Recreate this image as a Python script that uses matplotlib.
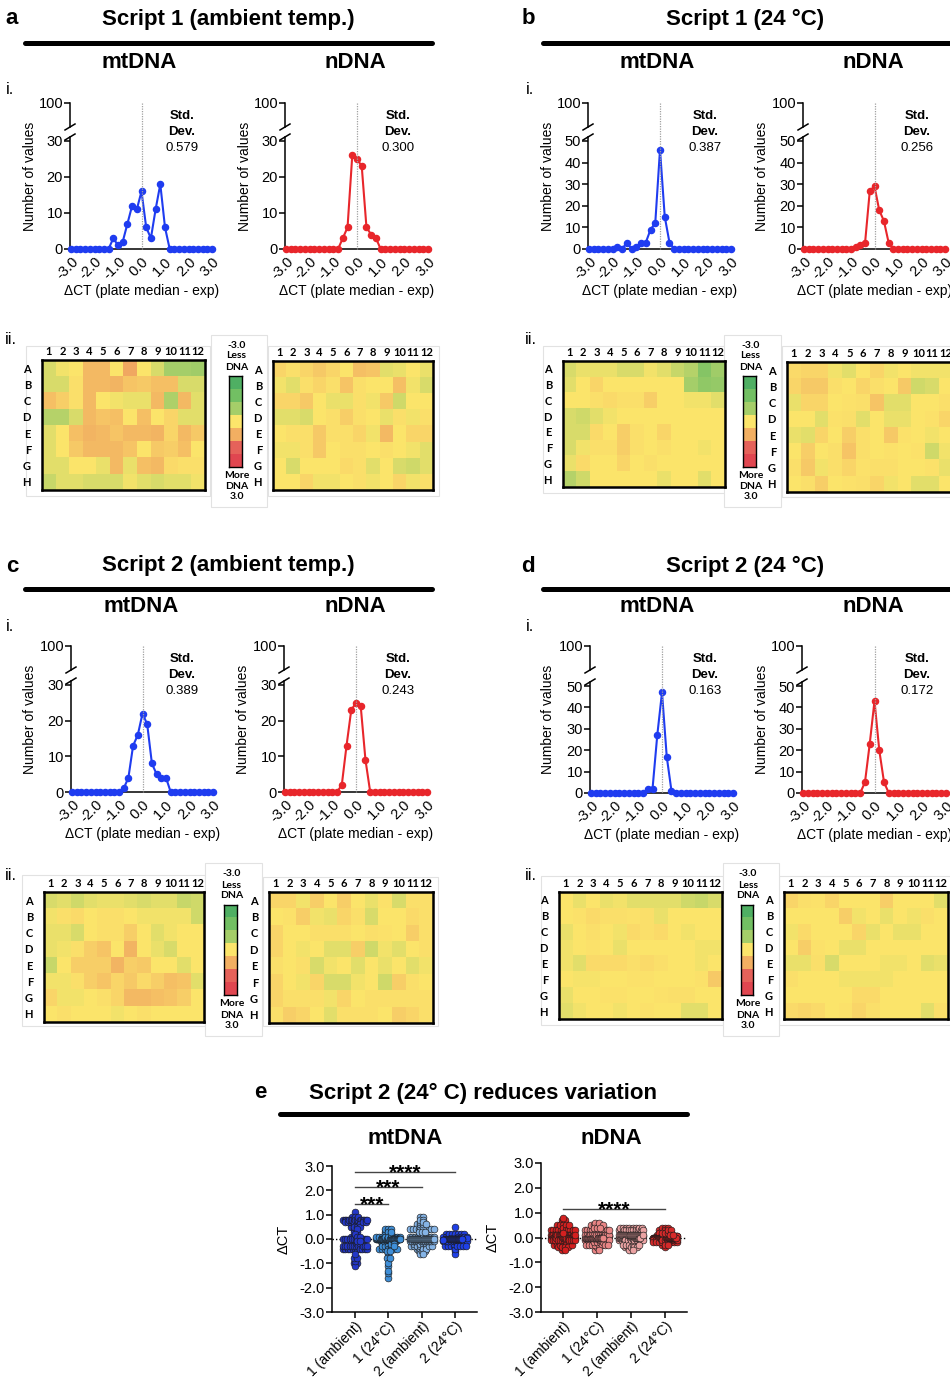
import numpy as np
import matplotlib
matplotlib.use('Agg')
import matplotlib.pyplot as plt
from matplotlib.lines import Line2D
from matplotlib.patches import Rectangle
from matplotlib.colors import LinearSegmentedColormap, ListedColormap, Normalize

plt.rcParams['font.family'] = ['Liberation Sans', 'DejaVu Sans']

# ---------------- data ----------------
BINS = [-3.0, -2.8, -2.6, -2.4, -2.2, -2.0, -1.8, -1.6, -1.4, -1.2, -1.0, -0.8, -0.6, -0.4, -0.2,
        0.0, 0.2, 0.4, 0.6, 0.8, 1.0, 1.2, 1.4, 1.6, 1.8, 2.0, 2.2, 2.4, 2.6, 2.8, 3.0]
XTICKS = [-3, -2, -1, 0, 1, 2, 3]
XTICK_LABELS = ['-3.0', '-2.0', '-1.0', '0.0', '1.0', '2.0', '3.0']

HIST_A_MT = [0, 0, 0, 0, 0, 0, 0, 0, 0, 3, 1, 2, 7, 12, 11, 16, 6, 3, 11, 18, 6, 0, 0, 0, 0, 0, 0, 0, 0, 0, 0]
HIST_A_N = [0, 0, 0, 0, 0, 0, 0, 0, 0, 0, 0, 0, 3, 6, 26, 25, 23, 6, 4, 3, 0, 0, 0, 0, 0, 0, 0, 0, 0, 0, 0]
HIST_B_MT = [0, 0, 0, 0, 0, 0, 1, 0, 3, 0, 1, 3, 3, 9, 12, 46, 15, 3, 0, 0, 0, 0, 0, 0, 0, 0, 0, 0, 0, 0, 0]
HIST_B_N = [0, 0, 0, 0, 0, 0, 0, 0, 0, 0, 0, 1, 2, 3, 27, 29, 18, 13, 3, 0, 0, 0, 0, 0, 0, 0, 0, 0, 0, 0, 0]
HIST_C_MT = [0, 0, 0, 0, 0, 0, 0, 0, 0, 0, 0, 1, 4, 13, 16, 22, 19, 8, 5, 4, 4, 0, 0, 0, 0, 0, 0, 0, 0, 0, 0]
HIST_C_N = [0, 0, 0, 0, 0, 0, 0, 0, 0, 0, 0, 0, 2, 13, 23, 25, 24, 9, 0, 0, 0, 0, 0, 0, 0, 0, 0, 0, 0, 0, 0]
HIST_D_MT = [0, 0, 0, 0, 0, 0, 0, 0, 0, 0, 0, 0, 2, 2, 27, 47, 17, 1, 0, 0, 0, 0, 0, 0, 0, 0, 0, 0, 0, 0, 0]
HIST_D_N = [0, 0, 0, 0, 0, 0, 0, 0, 0, 0, 0, 0, 0, 5, 23, 43, 20, 5, 0, 0, 0, 0, 0, 0, 0, 0, 0, 0, 0, 0, 0]

SD_A = ['0.579', '0.300']
SD_B = ['0.387', '0.256']
SD_C = ['0.389', '0.243']
SD_D = ['0.163', '0.172']

ROWS = ['A', 'B', 'C', 'D', 'E', 'F', 'G', 'H']
COLS = ['1', '2', '3', '4', '5', '6', '7', '8', '9', '10', '11', '12']

PLATE_A_MT = [
    [-0.4, -0.1, 0.0, 0.8, 0.8, 0.0, 1.1, 0.0, -0.4, -1.0, -1.0, -1.1],
    [-0.4, -0.4, 0.1, 0.8, 0.8, 0.9, 0.6, 0.5, 0.7, 0.7, -0.4, -0.4],
    [0.7, 0.4, 0.1, 0.8, 0.0, -0.1, -0.2, -0.2, 0.8, -0.9, 0.8, -0.3],
    [-0.8, -0.8, -0.4, 0.8, 0.6, 0.7, 0.0, 0.7, 0.0, 0.3, -0.3, -0.3],
    [-0.3, 0.0, 0.7, 0.9, 0.8, 0.6, 0.8, 0.8, 0.9, 0.3, 0.8, 0.5],
    [-0.3, 0.0, 0.5, 0.8, 0.8, 0.8, 0.6, 0.0, 0.5, 0.4, 0.7, 0.0],
    [-0.3, -0.3, 0.0, 0.0, -0.2, 0.8, -0.2, 0.7, 0.8, 0.2, 0.1, 0.1],
    [-0.6, -0.3, -0.3, -0.4, -0.4, -0.4, -0.1, -0.3, -0.4, -0.3, -0.3, -0.1]]
PLATE_A_N = [
    [0.3, 0.1, 0.3, 0.5, 0.3, 0.0, 0.7, 0.6, -0.3, -0.2, 0.0, -0.2],
    [-0.1, -0.3, 0.1, 0.3, 0.1, 0.6, 0.1, 0.0, 0.0, 0.7, -0.1, -0.4],
    [0.3, 0.3, 0.5, 0.0, -0.2, -0.2, 0.1, -0.1, 0.5, -0.5, 0.0, 0.0],
    [-0.3, -0.3, -0.4, 0.0, 0.1, 0.4, 0.1, 0.0, -0.2, 0.1, -0.1, 0.1],
    [0.0, 0.1, 0.1, 0.5, 0.1, 0.1, 0.3, -0.1, 0.8, 0.0, 0.3, 0.3],
    [-0.1, -0.1, 0.1, 0.5, 0.0, 0.1, 0.1, 0.0, 0.1, 0.0, -0.1, -0.3],
    [0.0, -0.4, 0.0, 0.0, 0.0, 0.2, 0.1, -0.3, 0.0, -0.4, -0.5, -0.3],
    [0.0, 0.0, 0.3, -0.1, -0.1, 0.0, 0.1, -0.1, 0.0, 0.3, -0.1, 0.1]]
PLATE_B_MT = [
    [-0.4, -0.2, -0.2, -0.2, -0.4, -0.4, -0.1, -0.3, -0.6, -0.8, -1.6, -1.1],
    [-0.3, 0.0, 0.3, 0.0, 0.0, 0.0, 0.0, 0.0, 0.0, -1.0, -1.4, -1.3],
    [0.0, 0.0, 0.1, 0.2, 0.1, 0.1, 0.4, 0.0, 0.0, -0.1, -0.1, -0.3],
    [-0.4, -0.5, -0.3, -0.1, 0.0, 0.0, 0.0, 0.0, 0.0, 0.0, 0.0, 0.0],
    [-0.4, -0.4, 0.2, 0.0, 0.4, 0.1, 0.0, 0.3, 0.0, 0.0, 0.0, 0.0],
    [-0.4, -0.1, 0.1, 0.1, 0.4, 0.1, 0.0, 0.1, 0.0, 0.0, -0.1, 0.0],
    [-0.2, 0.2, 0.0, 0.0, 0.3, 0.0, 0.1, 0.0, 0.0, 0.0, 0.0, 0.0],
    [-0.8, -0.5, 0.0, 0.0, 0.0, 0.0, 0.0, -0.2, 0.0, 0.0, -0.3, 0.0]]
PLATE_B_N = [
    [0.2, 0.3, 0.3, -0.1, -0.3, 0.0, 0.3, -0.1, 0.0, -0.1, -0.1, -0.1],
    [0.3, 0.5, 0.5, 0.1, 0.0, 0.3, 0.1, 0.0, 0.5, -0.5, -0.4, 0.0],
    [-0.2, 0.3, 0.3, 0.0, 0.05, 0.1, 0.6, -0.3, -0.3, 0.0, 0.0, 0.1],
    [0.0, 0.0, -0.3, 0.05, 0.1, -0.3, 0.0, -0.2, -0.2, 0.0, 0.05, 0.3],
    [-0.2, -0.3, 0.3, 0.0, 0.4, 0.1, 0.0, 0.5, 0.05, 0.0, -0.1, 0.0],
    [0.0, 0.4, 0.0, 0.1, 0.6, 0.1, 0.0, 0.05, 0.0, 0.05, -0.5, -0.1],
    [0.1, 0.5, -0.1, 0.1, 0.3, 0.05, 0.1, 0.1, 0.0, 0.0, 0.05, -0.2],
    [0.0, 0.1, 0.4, 0.0, 0.05, 0.1, 0.3, -0.1, 0.0, -0.3, -0.3, 0.0]]
PLATE_C_MT = [
    [-0.4, -0.3, -0.5, -0.3, -0.2, -0.2, -0.3, -0.4, -0.3, -0.3, -0.6, -0.5],
    [-0.1, 0.1, 0.2, 0.0, 0.1, 0.1, 0.0, -0.1, -0.1, -0.1, -0.1, -0.5],
    [-0.2, -0.2, -0.4, 0.0, 0.1, 0.1, 0.4, 0.0, -0.3, -0.1, 0.0, 0.0],
    [-0.2, -0.1, 0.1, 0.4, 0.6, 0.0, 0.9, 0.0, -0.2, -0.4, 0.0, 0.0],
    [-0.6, 0.0, 0.4, 0.4, 0.4, 0.9, 0.4, 0.5, 0.0, 0.0, -0.3, 0.0],
    [-0.1, -0.1, 0.1, 0.4, 0.6, 0.3, 0.5, 0.2, 0.4, 0.7, 0.6, -0.3],
    [0.3, -0.1, -0.1, 0.0, 0.1, 0.3, 0.8, 0.8, 0.7, 0.6, 0.4, 0.0],
    [0.0, 0.1, 0.0, 0.0, 0.0, -0.1, 0.0, 0.1, 0.0, 0.0, 0.0, 0.0]]
PLATE_C_N = [
    [0.3, 0.3, -0.1, 0.4, 0.0, 0.4, 0.0, -0.2, 0.05, -0.4, 0.1, 0.1],
    [0.0, 0.05, 0.4, -0.1, -0.2, 0.3, 0.1, -0.4, 0.0, 0.0, 0.2, 0.1],
    [0.3, 0.0, 0.0, 0.1, 0.1, 0.1, 0.0, 0.1, 0.05, 0.0, 0.4, 0.1],
    [0.3, 0.0, -0.1, 0.0, -0.3, -0.3, 0.4, -0.5, -0.1, -0.3, 0.0, 0.1],
    [0.1, 0.0, 0.1, -0.4, -0.1, 0.0, -0.3, 0.0, -0.2, 0.0, -0.3, -0.1],
    [0.3, 0.0, -0.1, 0.3, -0.4, -0.4, -0.1, 0.0, -0.5, 0.4, 0.1, 0.0],
    [0.3, 0.1, 0.1, 0.1, -0.1, 0.3, 0.0, 0.1, 0.1, 0.1, 0.1, 0.1],
    [0.1, 0.4, 0.3, 0.0, -0.3, 0.1, 0.1, 0.1, 0.0, 0.4, 0.3, 0.1]]
PLATE_D_MT = [
    [0.0, -0.2, 0.0, -0.2, -0.1, -0.3, -0.3, -0.3, -0.3, -0.5, -0.6, -0.4],
    [0.0, 0.05, 0.2, 0.1, 0.1, 0.05, 0.1, -0.2, 0.0, 0.0, 0.0, 0.0],
    [-0.2, 0.0, 0.1, 0.0, -0.1, 0.2, 0.1, 0.2, 0.0, -0.1, 0.0, 0.0],
    [-0.1, 0.0, 0.05, 0.0, -0.2, 0.0, 0.0, 0.0, 0.0, 0.0, -0.1, -0.1],
    [-0.1, -0.3, 0.2, 0.2, 0.2, 0.1, 0.2, 0.1, 0.0, 0.0, -0.1, 0.0],
    [0.0, -0.05, -0.05, 0.0, 0.0, 0.05, 0.05, 0.0, 0.0, 0.0, 0.05, 0.5],
    [-0.2, 0.0, 0.0, 0.05, 0.05, 0.0, 0.0, 0.05, 0.1, 0.1, 0.0, 0.0],
    [-0.3, -0.1, 0.0, 0.0, -0.1, 0.0, 0.05, 0.0, 0.0, -0.3, -0.3, 0.0]]
PLATE_D_N = [
    [0.3, 0.1, 0.05, 0.3, 0.0, 0.0, 0.0, 0.4, 0.0, 0.0, 0.0, -0.3],
    [0.0, 0.0, 0.0, 0.0, 0.4, -0.1, 0.0, -0.2, 0.0, -0.1, 0.1, 0.0],
    [-0.1, 0.2, 0.0, 0.0, 0.0, 0.3, -0.2, 0.0, -0.2, -0.2, 0.0, 0.0],
    [0.0, 0.4, 0.05, 0.0, -0.2, -0.2, 0.0, 0.0, 0.0, 0.0, 0.0, 0.0],
    [-0.2, -0.2, 0.1, -0.4, 0.0, 0.0, 0.0, -0.1, -0.1, 0.0, -0.3, -0.2],
    [0.1, 0.0, 0.0, 0.0, -0.1, -0.1, -0.1, -0.1, 0.0, 0.0, 0.0, 0.0],
    [0.0, 0.0, 0.0, 0.0, 0.0, 0.2, 0.2, 0.0, 0.0, 0.0, 0.0, 0.0],
    [0.2, 0.3, 0.2, 0.0, 0.05, 0.3, 0.1, 0.0, 0.0, 0.0, -0.3, 0.1]]

GROUPS = ['1 (ambient)', '1 (24°C)', '2 (ambient)', '2 (24°C)']
YTICKS_E = [3.0, 2.0, 1.0, 0.0, -1.0, -2.0, -3.0]
YTICK_LABELS_E = ['3.0', '2.0', '1.0', '0.0', '-1.0', '-2.0', '-3.0']
SIG_MT = [(0, 1, 1.43, '***'), (0, 2, 2.13, '***'), (0, 3, 2.75, '****')]
SIG_N = [(0, 3, 1.15, '****')]

# ---------------- styling ----------------
BLUE = '#1f3cf0'
RED = '#e8262b'
BLOCK_COLORS = ['#4faf63', '#72bf63', '#a5ce69', '#fce56b', '#f2af62', '#e5625a', '#e04650']
CMAP = LinearSegmentedColormap.from_list('plate', list(zip(np.linspace(0, 1, 7), BLOCK_COLORS)))
NORM = Normalize(-3, 3)
MT_COLORS = ['#2337c8', '#3f8fd8', '#85b4e6', '#1f40e6']
N_COLORS = ['#d42020', '#e98585', '#eba3a3', '#d62a2a']

W, H = 950, 1380
fig = plt.figure(figsize=(W / 100, H / 100), dpi=100)
fig.patch.set_facecolor('white')


def R(x0, y0, x1, y1):
    return [x0 / W, 1 - y1 / H, (x1 - x0) / W, (y1 - y0) / H]


def T(x, y, s, **kw):
    kw.setdefault('ha', 'center')
    kw.setdefault('va', 'center')
    fig.text(x / W, 1 - y / H, s, **kw)


def L(x0, y0, x1, y1, **kw):
    fig.add_artist(Line2D([x0 / W, x1 / W], [1 - y0 / H, 1 - y1 / H], transform=fig.transFigure, **kw))


def box(x0, y0, x1, y1, ec='#e2e2e2', lw=0.8):
    fig.add_artist(Rectangle((x0 / W, 1 - y1 / H), (x1 - x0) / W, (y1 - y0) / H,
                             transform=fig.transFigure, fc='white', ec=ec, lw=lw, zorder=0))


def panel_header(lx, ly, letter, tx, title, x0, x1, line_y, mtx, nx, sub_y):
    T(lx, ly, letter, fontsize=16, fontweight='bold')
    T(tx, ly, title, fontsize=16, fontweight='bold')
    L(x0, line_y, x1, line_y, color='black', lw=3.6, solid_capstyle='round')
    T(mtx, sub_y, 'mtDNA', fontsize=16, fontweight='bold')
    T(nx, sub_y, 'nDNA', fontsize=16, fontweight='bold')


def hist_panel(spec, counts, color, sd, ylab_x, sd_x):
    xm3, xp3, y0, ytop, y100, ymax = spec
    sc = (xp3 - xm3) / 6.0
    left, right = xm3 - 1, xp3 + 3
    scy = (y0 - ytop) / ymax
    ext = 4
    ax = fig.add_axes(R(left, ytop - ext, right, y0))
    ax.set_xlim(-3 - 1 / sc, 3 + 3 / sc)
    ax.set_ylim(0, ymax + ext / scy)
    ax.plot(BINS, counts, '-o', color=color, ms=4.4, lw=1.5, clip_on=False, zorder=3)
    ax.set_yticks(list(range(0, ymax + 1, 10)))
    ax.set_xticks(XTICKS)
    ax.set_xticklabels(XTICK_LABELS, rotation=45, ha='right', va='top', rotation_mode='anchor')
    for s in ['top', 'right']:
        ax.spines[s].set_visible(False)
    for s in ['left', 'bottom']:
        ax.spines[s].set_linewidth(1.1)
    ax.tick_params(axis='y', labelsize=10.5, length=4, width=1.1, pad=1)
    ax.tick_params(axis='x', labelsize=10.5, length=0, pad=4)
    ax.patch.set_alpha(0)
    ax2 = fig.add_axes(R(left, y100, right, y100 + 24))
    ax2.set_ylim(90, 100)
    ax2.set_xlim(0, 1)
    ax2.set_yticks([100])
    ax2.set_xticks([])
    for s in ['top', 'right', 'bottom']:
        ax2.spines[s].set_visible(False)
    ax2.spines['left'].set_linewidth(1.1)
    ax2.tick_params(axis='y', labelsize=10.5, length=4, width=1.1, pad=1)
    ax2.patch.set_alpha(0)
    # break marks
    L(left - 5, y100 + 27, left + 5, y100 + 21, color='black', lw=1.1)
    L(left - 5, ytop - ext + 3, left + 5, ytop - ext - 3, color='black', lw=1.1)
    # zero line
    x0px = xm3 + 3 * sc
    L(x0px, y100, x0px, y0, color='#a0a0a0', lw=0.9, ls=(0, (1, 1)), zorder=1)
    T(ylab_x, (y100 + y0) / 2, 'Number of values', fontsize=10, rotation=90)
    T((xm3 + xp3) / 2, y0 + 42, 'ΔCT (plate median - exp)', fontsize=10)
    T(sd_x, y100 + 13, 'Std.', fontsize=9.5, fontweight='bold')
    T(sd_x, y100 + 29, 'Dev.', fontsize=9.5, fontweight='bold')
    T(sd_x, y100 + 45, sd, fontsize=9.5)


def plate(bx, grid):
    x0, y0, x1, y1 = bx
    ax = fig.add_axes(R(x0, y0, x1, y1))
    ax.imshow(np.array(grid), cmap=CMAP, norm=NORM, aspect='auto', interpolation='nearest')
    ax.set_xticks(range(12))
    ax.set_xticklabels(COLS, fontfamily='Lato', fontweight='bold', fontsize=8)
    ax.set_yticks(range(8))
    ax.set_yticklabels(ROWS, fontfamily='Lato', fontweight='bold', fontsize=8)
    ax.xaxis.tick_top()
    ax.tick_params(axis='x', length=0, pad=2)
    ax.tick_params(axis='y', length=0, pad=8)
    for s in ax.spines.values():
        s.set_linewidth(1.8)


def cbar(bx, ybox):
    x0, y0, x1, y1 = bx
    box(*ybox)
    ax = fig.add_axes(R(x0, y0, x1, y1))
    ax.imshow(np.arange(7).reshape(7, 1), cmap=ListedColormap(BLOCK_COLORS), aspect='auto',
              interpolation='nearest')
    ax.set_xticks([])
    ax.set_yticks([])
    for s in ax.spines.values():
        s.set_linewidth(1.0)
    cx = (x0 + x1) / 2 + 1
    kw = dict(fontsize=7.5, fontweight='bold', fontfamily='Lato')
    T(cx, y0 - 31, '-3.0', **kw)
    T(cx, y0 - 20, 'Less', **kw)
    T(cx, y0 - 9, 'DNA', **kw)
    T(cx, y1 + 9, 'More', **kw)
    T(cx, y1 + 20, 'DNA', **kw)
    T(cx, y1 + 30, '3.0', **kw)


# ---------------- panels a-d ----------------
PANELS = [
    dict(letter='a', lx=12, ly=19, tx=228, title='Script 1 (ambient temp.)', lx0=25, lx1=432, line_y=43,
         mtx=139, nx=355, sub_y=63, ix=10, iy=90,
         hists=[((71, 212, 249, 141, 103, 30), HIST_A_MT, BLUE, SD_A[0], 30, 182),
                ((286, 428, 249, 141, 103, 30), HIST_A_N, RED, SD_A[1], 245, 398)],
         plates=[((42, 360, 205, 490), PLATE_A_MT, (26, 346, 210, 496)),
                 ((273, 361, 433, 490), PLATE_A_N, (268, 346, 439, 496))],
         cb=((229, 376, 242, 467), (211, 335, 267, 507))),
    dict(letter='b', lx=528, ly=19, tx=745, title='Script 1 (24 °C)', lx0=543, lx1=960, line_y=43,
         mtx=657, nx=873, sub_y=63, ix=530, iy=90,
         hists=[((589, 731, 249, 141, 103, 50), HIST_B_MT, BLUE, SD_B[0], 548, 705),
                ((804, 945, 249, 141, 103, 50), HIST_B_N, RED, SD_B[1], 762, 917)],
         plates=[((563, 361, 725, 487), PLATE_B_MT, (543, 346, 725, 493)),
                 ((787, 362, 953, 492), PLATE_B_N, (782, 346, 960, 497))],
         cb=((743, 376, 756, 467), (724, 335, 781, 507))),
    dict(letter='c', lx=12, ly=566, tx=228, title='Script 2 (ambient temp.)', lx0=25, lx1=432, line_y=589,
         mtx=141, nx=355, sub_y=607, ix=10, iy=627,
         hists=[((72, 213, 792, 685, 646, 30), HIST_C_MT, BLUE, SD_C[0], 30, 182),
                ((285, 427, 792, 685, 646, 30), HIST_C_N, RED, SD_C[1], 243, 398)],
         plates=[((44, 892, 204, 1022), PLATE_C_MT, (22, 875, 205, 1026)),
                 ((269, 892, 433, 1023), PLATE_C_N, (263, 877, 438, 1026))],
         cb=((224, 905, 237, 995), (205, 863, 262, 1036))),
    dict(letter='d', lx=528, ly=566, tx=745, title='Script 2 (24 °C)', lx0=543, lx1=960, line_y=589,
         mtx=657, nx=873, sub_y=607, ix=530, iy=627,
         hists=[((591, 733, 793, 686, 646, 50), HIST_D_MT, BLUE, SD_D[0], 548, 705),
                ((803, 946, 793, 686, 646, 50), HIST_D_N, RED, SD_D[1], 762, 917)],
         plates=[((559, 892, 722, 1019), PLATE_D_MT, (541, 876, 723, 1025)),
                 ((784, 892, 948, 1019), PLATE_D_N, (779, 876, 960, 1025))],
         cb=((741, 905, 753, 995), (723, 863, 779, 1036))),
]

for p in PANELS:
    panel_header(p['lx'], p['ly'], p['letter'], p['tx'], p['title'], p['lx0'], p['lx1'], p['line_y'],
                 p['mtx'], p['nx'], p['sub_y'])
    T(p['ix'], p['iy'], 'i.', fontsize=12)
    T(p['ix'] + 1, p['iy'] + 249, 'ii.', fontsize=12)
    for spec, counts, color, sd, ylx, sdx in p['hists']:
        hist_panel(spec, counts, color, sd, ylx, sdx)
    for bx, grid, bg in p['plates']:
        box(*bg)
        plate(bx, grid)
    cbar(*p['cb'])

# ---------------- panel e ----------------
panel_header(260, 1093, 'e', 483, 'Script 2 (24° C) reduces variation', 280, 687, 1114, 405, 611, 1139)


def swarm_offsets(vals, step=0.09, maxw=0.36, binw=0.1):
    vals = np.asarray(vals, float)
    keys = np.round(vals / binw).astype(int)
    off = np.zeros_like(vals)
    for k in np.unique(keys):
        idx = np.where(keys == k)[0]
        idx = idx[np.argsort(vals[idx], kind='stable')]
        n = len(idx)
        w = min(maxw, (n - 1) * step / 2)
        off[idx] = np.linspace(-w, w, n) if n > 1 else 0.0
    return off


def swarm_axes(rect_px, xlim, plates, colors, sigs, ylab_x):
    x0, y0, x1, y1 = rect_px
    ax = fig.add_axes(R(x0, y0, x1, y1))
    ax.set_xlim(*xlim)
    ax.set_ylim(-3, 3)
    ax.axhline(0, color='black', lw=1.0, ls=(0, (1, 1.5)), zorder=1)
    for i, (grid, c) in enumerate(zip(plates, colors)):
        v = np.array(grid, float).ravel()
        xs = i + swarm_offsets(v)
        ax.scatter(xs, v, s=24, color=c, edgecolor='#1a1a1a', linewidth=0.45, zorder=3)
    for a, b, y, s in sigs:
        ax.plot([a, b], [y, y], color='#444444', lw=1.0, clip_on=False)
        ax.text((a + b) / 2, y - 0.25, s, ha='center', va='baseline', fontsize=15, fontweight='bold',
                clip_on=False)
    ax.set_yticks(YTICKS_E)
    ax.set_yticklabels(YTICK_LABELS_E, fontsize=10.5)
    ax.set_xticks(range(4))
    ax.set_xticklabels(GROUPS, rotation=45, ha='right', va='top', rotation_mode='anchor', fontsize=10)
    for s in ['top', 'right']:
        ax.spines[s].set_visible(False)
    for s in ['left', 'bottom']:
        ax.spines[s].set_linewidth(1.1)
    ax.tick_params(length=4, width=1.1)
    ax.tick_params(axis='y', pad=1)
    ax.tick_params(axis='x', pad=1)
    ax.patch.set_alpha(0)
    T(ylab_x, (y0 + y1) / 2, 'ΔCT', fontsize=10.5, rotation=90)


swarm_axes((332, 1166, 477, 1312), (-0.69, 3.66), [PLATE_A_MT, PLATE_B_MT, PLATE_C_MT, PLATE_D_MT],
           MT_COLORS, SIG_MT, 284)
swarm_axes((541, 1163, 687, 1312), (-0.65, 3.65), [PLATE_A_N, PLATE_B_N, PLATE_C_N, PLATE_D_N],
           N_COLORS, SIG_N, 493)

fig.savefig('out.png', dpi=100, facecolor='white')
